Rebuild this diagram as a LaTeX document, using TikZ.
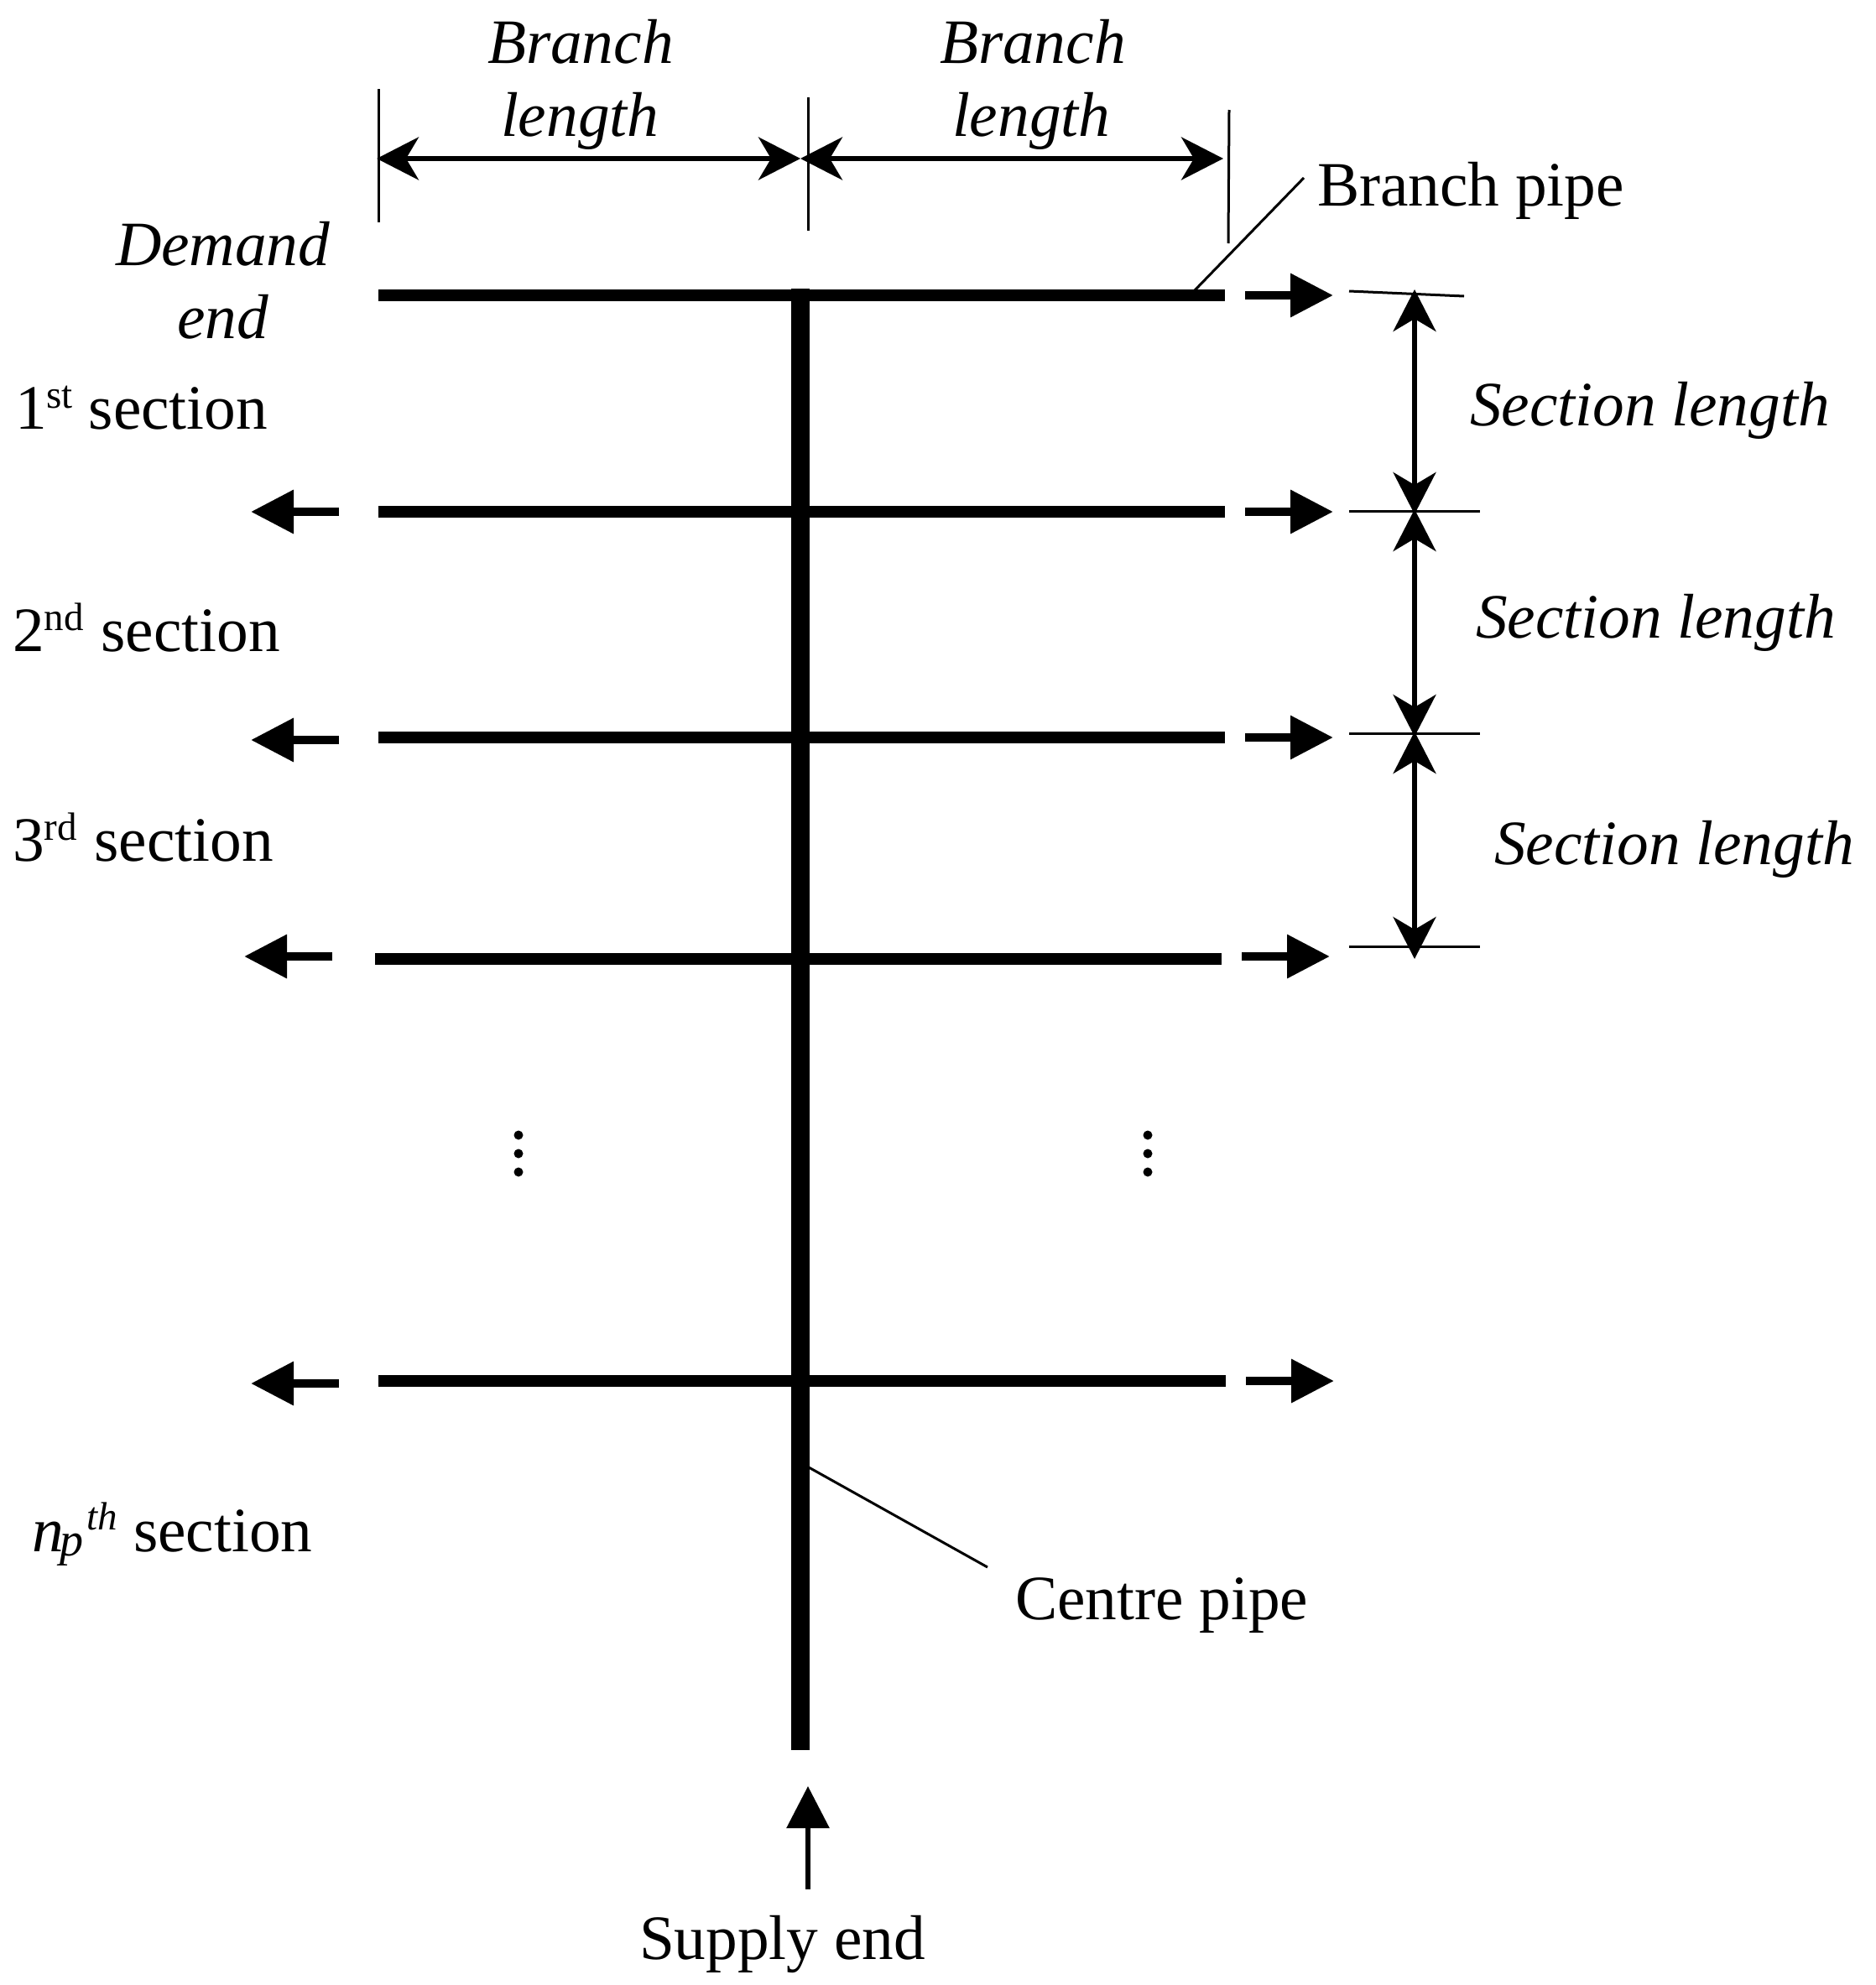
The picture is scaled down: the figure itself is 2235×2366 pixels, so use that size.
\documentclass[tikz,border=0pt]{standalone}
\usepackage{fontspec}
\setmainfont{Liberation Serif}
\usetikzlibrary{arrows.meta}
\newcommand{\supr}[2][25pt]{\raisebox{#1}{\fontsize{47}{50}\selectfont #2}}
\tikzset{
  x=1pt,y=-1pt,
  lab/.style={anchor=base west,inner sep=0pt,outer sep=0pt,font=\fontsize{75.3}{80}\selectfont},
  ilab/.style={lab,font=\fontsize{75.3}{80}\itshape\selectfont},
  thin line/.style={line width=3pt},
  pipe/.style={line width=13.5pt},
  centre/.style={line width=22pt},
  dim/.style={line width=5.5pt,{Stealth[length=50pt,width=51pt,inset=15pt]}-{Stealth[length=50pt,width=51pt,inset=15pt]}},
  flow/.style={line width=10pt,-{Triangle[length=51pt,width=50pt]}},
  supply/.style={line width=6pt,-{Triangle[length=50pt,width=50pt]}},
  dotmark/.style={circle,fill=black,minimum size=11pt,inner sep=0pt}
}
\begin{document}
\begin{tikzpicture}
\useasboundingbox (0,0) rectangle (2235,2366);
\fill[white] (0,0) rectangle (2235,2366);
% branch pipes
\foreach \n/\yy/\xa/\xb in {1/352/451/1460,2/610/451/1460,3/879/451/1460,4/1143/447/1456,5/1646/451/1461}{
  \coordinate (bl\n) at (\xa,\yy);
  \coordinate (br\n) at (\xb,\yy);
  \draw[pipe] (bl\n) -- (br\n);
}
% centre pipe
\coordinate (ctop) at (954,344);
\coordinate (cbot) at (954,2086);
\draw[centre] (ctop) -- (cbot);
% flow arrows right
\foreach \n/\yy/\xa/\xb in {1/352/1484/1589,2/610/1484/1589,3/879/1484/1589,4/1140/1480/1585,5/1646/1485/1590}{
  \coordinate (fra\n) at (\xa,\yy);
  \coordinate (frb\n) at (\xb,\yy);
  \draw[flow] (fra\n) -- (frb\n);
}
% flow arrows left
\foreach \n/\yy/\xa/\xb in {2/610/404/299,3/882/404/299,4/1140/396/291,5/1649/404/299}{
  \coordinate (fla\n) at (\xa,\yy);
  \coordinate (flb\n) at (\xb,\yy);
  \draw[flow] (fla\n) -- (flb\n);
}
% supply
\coordinate (sa) at (963,2252);
\coordinate (sb) at (963,2129);
\draw[supply] (sa) -- (sb);
% top dimension
\coordinate (t1a) at (451,106); \coordinate (t1b) at (451,265);
\coordinate (t2a) at (963,116); \coordinate (t2b) at (963,275);
\coordinate (t3a) at (1465,131); \coordinate (t3b) at (1464,290);
\draw[thin line] (t1a) -- (t1b);
\draw[thin line] (t2a) -- (t2b);
\draw[thin line] (t3a) -- (t3b);
\coordinate (d1) at (449,189); \coordinate (d2) at (954,189); \coordinate (d3) at (1458,189);
\draw[dim] (d1) -- (d2);
\draw[dim] (d2) -- (d3);
% section dimension
\coordinate (s1a) at (1608,347); \coordinate (s1b) at (1745,353);
\coordinate (s2a) at (1608,609); \coordinate (s2b) at (1764,609);
\coordinate (s3a) at (1608,874); \coordinate (s3b) at (1764,874);
\coordinate (s4a) at (1608,1128); \coordinate (s4b) at (1764,1128);
\foreach \n in {1,2,3,4}{\draw[thin line] (s\n a) -- (s\n b);}
\coordinate (v1a) at (1686,345); \coordinate (v1b) at (1686,613);
\coordinate (v2a) at (1686,607); \coordinate (v2b) at (1686,878);
\coordinate (v3a) at (1686,872); \coordinate (v3b) at (1686,1143);
\foreach \n in {1,2,3}{\draw[dim] (v\n a) -- (v\n b);}
% leaders
\node[lab] (bp) at (1570,245) {Branch pipe};
\coordinate (bpa) at (1424,346); \coordinate (bpb) at (1554,212);
\draw[thin line] (bpa) -- (bpb);
\node[lab] (cp) at (1210,1930) {Centre pipe};
\coordinate (cpa) at (964,1749); \coordinate (cpb) at (1177,1868);
\draw[thin line] (cpa) -- (cpb);
% labels
\node[ilab] (bl1) at (581,76) {Branch};
\node[ilab] (ll1) at (597,162) {length};
\node[ilab] (bl2) at (1120,76) {Branch};
\node[ilab] (ll2) at (1135,162) {length};
\node[ilab] (de) at (138,316) {Demand};
\node[ilab] (en) at (211,403) {end};
\node[lab] (sec1) at (18,511) {1\supr{st} section};
\node[lab] (sec2) at (15,776) {2\supr{nd}\kern2pt{} section};
\node[lab] (sec3) at (15,1026) {3\supr{rd}\kern2pt{} section};
\node[lab] (secn) at (38,1849) {\textit{n}\kern-4pt\raisebox{-5pt}{\fontsize{56}{60}\itshape\selectfont p}\kern4pt\supr[26pt]{\itshape th} section};
\node[ilab] (sl1) at (1752,507) {Section length};
\node[ilab] (sl2) at (1759,760) {Section length};
\node[ilab] (sl3) at (1781,1030) {Section length};
\node[lab] (se) at (762,2335) {Supply end};
% dots
\foreach \n/\xx/\yy in {a/618/1353,b/618/1375,c/618/1397,d/1368/1353,e/1368/1375,f/1368/1397}{
  \node[dotmark] (dot\n) at (\xx,\yy) {};
}
\end{tikzpicture}
\end{document}
